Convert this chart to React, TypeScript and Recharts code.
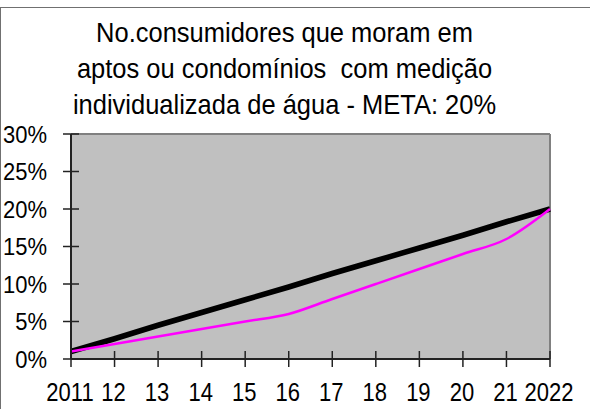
import React from 'react';
import { LineChart, Line, XAxis, YAxis, CartesianGrid, ReferenceLine } from 'recharts';

const years = ['2011', '12', '13', '14', '15', '16', '17', '18', '19', '20', '21', '2022'];
const meta = [1, 2.7, 4.5, 6.2, 7.9, 9.6, 11.4, 13.1, 14.8, 16.5, 18.3, 20];
const real = [1, 2, 3, 4, 5, 6, 8, 10, 12, 14, 16, 20];
const yTicks = [0, 5, 10, 15, 20, 25, 30];
const titleLines = [
  'No.consumidores que moram em',
  'aptos ou condomínios  com medição',
  'individualizada de água - META: 20%',
];

const data = years.map((year, i) => ({ year, meta: meta[i], real: real[i] }));

const font = '"Liberation Sans", Arial, sans-serif';

const XTick = (props: any) => {
  const { x, y, payload } = props;
  return (
    <g>
      <line x1={x} x2={x} y1={y - 8} y2={y + 8} stroke="#222" strokeWidth={1.5} />
      <g transform={`translate(${x - 1},${y + 42}) scale(1,1.13)`}>
        <text x={0} y={0} textAnchor="middle" fontSize={22} fontFamily={font} fill="#000">
          {payload.value}
        </text>
      </g>
    </g>
  );
};

const YTick = (props: any) => {
  const { x, y, payload } = props;
  return (
    <g>
      <line x1={x - 8} x2={x + 8} y1={y} y2={y} stroke="#222" strokeWidth={1.5} />
      <g transform={`translate(${x - 24},${y + 8.5}) scale(1,1.1)`}>
        <text x={0} y={0} textAnchor="end" fontSize={22} fontFamily={font} fill="#000">
          {payload.value + '%'}
        </text>
      </g>
    </g>
  );
};

export default function App() {
  return (
    <div
      style={{
        position: 'absolute',
        left: 0,
        top: 0,
        width: 590,
        height: 409,
        overflow: 'hidden',
        background: '#fff',
      }}
    >
      <div
        style={{
          position: 'absolute',
          left: 0,
          top: 7,
          width: 800,
          height: 600,
          border: '1px solid #707070',
        }}
      />
      <svg width={590} height={130} style={{ position: 'absolute', left: 0, top: 0 }}>
        {titleLines.map((t, i) => (
          <g key={i} transform={`translate(284.5,${42 + i * 36}) scale(1,1.1)`}>
            <text
              x={0}
              y={0}
              textAnchor="middle"
              fontSize={25.5}
              fontFamily={font}
              fill="#000"
              style={{ whiteSpace: 'pre' }}
            >
              {t}
            </text>
          </g>
        ))}
      </svg>
      <div style={{ position: 'absolute', left: 0, top: 0 }}>
        <LineChart
          width={590}
          height={409}
          data={data}
          margin={{ top: 134, right: 40, bottom: 0, left: 0 }}
        >
          <CartesianGrid fill="#c0c0c0" horizontal={false} vertical={false} />
          <ReferenceLine y={30} stroke="#808080" strokeWidth={2} />
          <ReferenceLine x="2022" stroke="#808080" strokeWidth={2} />
          <XAxis
            dataKey="year"
            height={50}
            interval={0}
            tickSize={0}
            tickMargin={0}
            tickLine={false}
            axisLine={{ stroke: '#222', strokeWidth: 2 }}
            tick={<XTick />}
          />
          <YAxis
            width={71}
            domain={[0, 30]}
            ticks={yTicks}
            interval={0}
            tickSize={0}
            tickMargin={0}
            tickLine={false}
            axisLine={{ stroke: '#222', strokeWidth: 2 }}
            tick={<YTick />}
          />
          <Line
            type="linear"
            dataKey="meta"
            stroke="#000"
            strokeWidth={5.5}
            dot={false}
            isAnimationActive={false}
          />
          <Line
            type="monotone"
            dataKey="real"
            stroke="#ff00ff"
            strokeWidth={2.5}
            dot={false}
            isAnimationActive={false}
          />
        </LineChart>
      </div>
    </div>
  );
}
